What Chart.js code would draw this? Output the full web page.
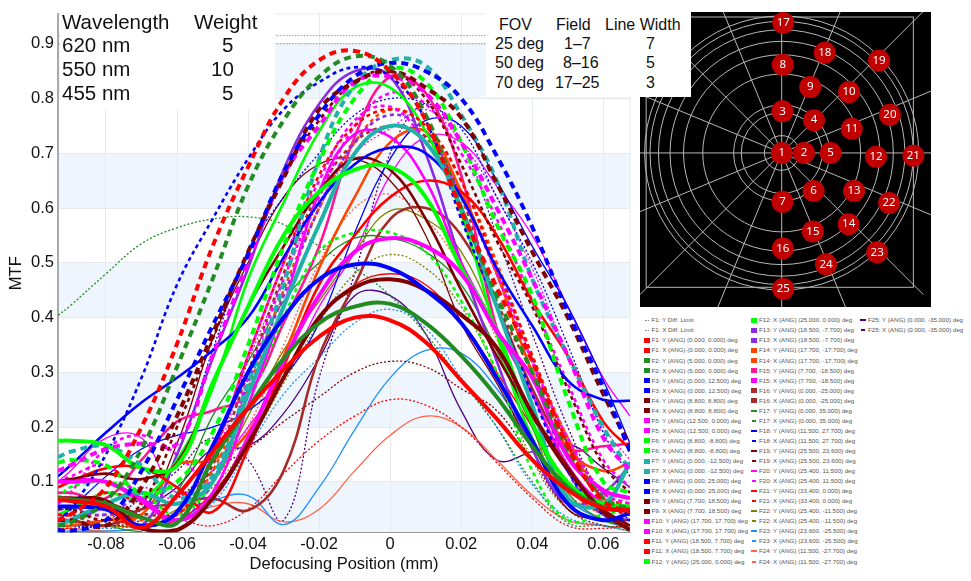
<!DOCTYPE html>
<html>
<head>
<meta charset="utf-8">
<title>MTF vs defocus</title>
<script src="https://cdn.jsdelivr.net/npm/chart.js@4/dist/chart.umd.min.js"></script>
<style>
  html, body { margin: 0; background: #fff; }
  body { position: relative; width: 971px; height: 581px; overflow: hidden; font-family: "Liberation Sans", Arial, sans-serif; color: #111; }
  canvas { position: absolute; display: block; }
  .box { position: absolute; background: #fff; }
  .t { position: absolute; white-space: pre; line-height: 1; }
  .big { font-size: 20.5px; }
  .mid { font-size: 16px; }
  #legend .row { position: absolute; font-size: 6.2px; line-height: 8px; color: #555; white-space: pre; }
  #legend .sw { position: absolute; }
</style>
</head>
<body>
<canvas id="mtf" width="640" height="581" style="left:0;top:0"></canvas>
<canvas id="fields" width="291" height="295" style="left:640px;top:12px"></canvas>

<div class="box" style="left:60px;top:13px;width:215px;height:97px"></div>
<div class="t big" style="left:62px;top:12px">Wavelength</div>
<div class="t big" style="left:194px;top:12px">Weight</div>
<div class="t big" style="left:62px;top:35px">620 nm</div>
<div class="t big" style="left:222px;top:35px">5</div>
<div class="t big" style="left:62px;top:59px">550 nm</div>
<div class="t big" style="left:211px;top:59px">10</div>
<div class="t big" style="left:62px;top:83px">455 nm</div>
<div class="t big" style="left:222px;top:83px">5</div>

<div class="box" style="left:486px;top:12px;width:205px;height:85px"></div>
<div class="t mid" style="left:499px;top:17px">FOV</div>
<div class="t mid" style="left:556px;top:17px">Field</div>
<div class="t mid" style="left:605px;top:17px">Line Width</div>
<div class="t mid" style="left:495px;top:36px">25 deg</div>
<div class="t mid" style="left:564px;top:36px">1–7</div>
<div class="t mid" style="left:646px;top:36px">7</div>
<div class="t mid" style="left:495px;top:55px">50 deg</div>
<div class="t mid" style="left:563px;top:55px">8–16</div>
<div class="t mid" style="left:646px;top:55px">5</div>
<div class="t mid" style="left:495px;top:75px">70 deg</div>
<div class="t mid" style="left:555px;top:75px">17–25</div>
<div class="t mid" style="left:646px;top:75px">3</div>

<div id="legend"></div>

<script>
// shared defocus positions (mm), one value per point of every curve
const defocus = [-0.0935,-0.09,-0.08,-0.07,-0.06,-0.05,-0.04,-0.03,-0.02,-0.01,0,0.01,0.02,0.03,0.04,0.05,0.06,0.0675];
const xTicks = [-0.08,-0.06,-0.04,-0.02,0,0.02,0.04,0.06];
const yTicks = [0.1,0.2,0.3,0.4,0.5,0.6,0.7,0.8,0.9];

const diffY = [.915,.915,.915,.915,.915,.915,.915,.915,.915,.915,.915,.915,.915,.915,.915,.915,.915,.915];
const diffX = [.9,.9,.9,.9,.9,.9,.9,.9,.9,.9,.9,.9,.9,.9,.9,.9,.9,.9];

const f1y = [.067,.065,.055,.016,.075,.155,.235,.305,.365,.40,.395,.355,.285,.215,.14,.085,.052,.048];
const f1x = [.03,.04,.09,.20,.352,.53,.675,.80,.87,.887,.85,.76,.595,.455,.32,.165,.065,.045];
const f2y = [.07,.068,.06,.035,.025,.14,.235,.325,.39,.42,.425,.39,.33,.255,.165,.09,.054,.05];
const f2x = [.02,.025,.065,.16,.31,.47,.64,.76,.84,.877,.86,.77,.6,.44,.3,.16,.07,.05];
const f3y = [.055,.055,.05,.02,.045,.165,.3,.40,.47,.497,.49,.45,.39,.29,.175,.06,.03,.043];
const f3x = [.012,.01,.03,.12,.25,.385,.515,.665,.77,.84,.865,.85,.80,.695,.565,.41,.273,.155];
const f4y = [.07,.07,.065,.015,.012,.07,.17,.29,.40,.455,.47,.45,.405,.345,.225,.125,.045,.012];
const f4x = [.03,.03,.02,.09,.22,.37,.52,.655,.78,.83,.85,.82,.765,.645,.52,.40,.26,.165];
const f5y = [.10,.10,.10,.065,.03,.07,.18,.32,.44,.52,.545,.53,.48,.375,.29,.145,.085,.07];
const f5x = [.12,.13,.16,.17,.17,.33,.50,.66,.75,.83,.84,.81,.72,.60,.47,.33,.18,.12];
const f6y = [.175,.175,.167,.125,.13,.28,.42,.55,.63,.67,.675,.62,.49,.375,.207,.098,.06,.055];
const f6x = [.135,.14,.13,.08,.10,.19,.35,.53,.685,.80,.855,.83,.72,.57,.44,.25,.10,.08];
const f7y = [.02,.03,.06,.08,.06,.10,.26,.42,.57,.70,.75,.72,.60,.42,.24,.07,.06,.135];
const f7x = [.145,.155,.165,.13,.07,.11,.28,.46,.69,.825,.87,.86,.77,.65,.47,.33,.20,.12];
const f8y = [.11,.13,.19,.245,.29,.34,.40,.51,.61,.68,.71,.70,.62,.49,.385,.285,.25,.248];
const f8x = [.03,.05,.15,.29,.46,.58,.69,.78,.83,.857,.84,.76,.58,.42,.26,.12,.04,.03];
const f9y = [.10,.105,.115,.105,.135,.28,.42,.53,.63,.69,.67,.58,.45,.33,.22,.12,.05,.02];
const f9x = [.05,.05,.03,.06,.2,.36,.52,.66,.76,.83,.85,.80,.68,.54,.42,.27,.13,.08];
const f10y = [.10,.105,.10,.07,.03,.08,.24,.42,.63,.735,.73,.65,.5,.38,.26,.13,.06,.05];
const f10x = [.10,.11,.13,.07,.03,.15,.33,.5,.65,.76,.785,.72,.62,.48,.32,.18,.08,.06];
const f11y = [.09,.10,.125,.125,.09,.045,.16,.31,.46,.55,.62,.65,.63,.55,.43,.33,.21,.16];
const f11x = [.04,.04,.08,.06,.04,.15,.33,.5,.66,.75,.78,.75,.65,.49,.33,.17,.06,.04];
const f12y = [.04,.05,.08,.07,.14,.27,.47,.61,.74,.82,.82,.74,.59,.37,.18,.09,.06,.13];
const f12x = [.07,.09,.10,.08,.04,.10,.24,.40,.52,.555,.555,.52,.43,.30,.12,.03,.04,.05];
const f13y = [.03,.03,.05,.02,.15,.325,.49,.67,.79,.85,.84,.70,.50,.32,.16,.06,.08,.13];
const f13x = [.05,.05,.04,.07,.03,.10,.28,.44,.6,.72,.77,.74,.62,.49,.32,.12,.04,.03];
const f14y = [.02,.02,.03,.04,.13,.14,.19,.33,.49,.62,.72,.74,.63,.48,.30,.16,.12,.135];
const f14x = [.03,.03,.04,.03,.04,.12,.27,.45,.6,.72,.78,.75,.65,.5,.33,.18,.07,.06];
const f15y = [.08,.08,.07,.14,.21,.23,.26,.39,.53,.73,.84,.81,.66,.38,.22,.16,.165,.17];
const f15x = [.06,.08,.16,.185,.15,.10,.29,.47,.62,.75,.81,.79,.70,.58,.43,.28,.14,.09];
const f16y = [.03,.03,.02,.05,.06,.07,.048,.12,.33,.46,.58,.6,.55,.42,.27,.15,.07,.04];
const f16x = [.04,.04,.02,.04,.04,.13,.3,.48,.63,.72,.75,.73,.62,.43,.3,.17,.08,.05];
const f17y = [.03,.03,.02,.01,.08,.22,.32,.43,.50,.545,.545,.52,.46,.34,.2,.08,.03,.02];
const f17x = [.404,.422,.48,.535,.564,.58,.584,.57,.53,.49,.44,.37,.285,.2,.1,.025,.02,.01];
const f18y = [.03,.05,.11,.16,.185,.2,.23,.29,.39,.555,.69,.76,.75,.65,.53,.42,.285,.17];
const f18x = [.02,.02,.02,.05,.15,.34,.52,.62,.70,.77,.80,.79,.745,.62,.5,.35,.19,.11];
const f19y = [.03,.03,.06,.05,.17,.36,.50,.62,.68,.69,.65,.55,.39,.28,.16,.05,.03,.03];
const f19x = [.03,.03,.02,.03,.07,.12,.16,.21,.255,.30,.32,.31,.27,.23,.14,.05,.02,.02];
const f20y = [.10,.12,.18,.18,.08,.12,.20,.29,.42,.52,.66,.73,.72,.64,.55,.42,.29,.22];
const f20x = [.05,.05,.06,.09,.07,.14,.32,.47,.61,.70,.745,.78,.72,.62,.49,.33,.20,.14];
const f21y = [.02,.02,.03,.02,.03,.08,.17,.29,.40,.46,.48,.46,.39,.30,.2,.09,.04,.03];
const f21x = [.015,.015,.02,.02,.03,.02,.05,.115,.175,.22,.25,.24,.2,.135,.07,.02,.015,.02];
const f22y = [.02,.02,.02,.02,.05,.10,.22,.34,.43,.52,.595,.58,.52,.38,.2,.06,.03,.02];
const f22x = [.02,.02,.02,.02,.04,.09,.17,.28,.39,.48,.515,.49,.42,.3,.14,.05,.03,.02];
const f23y = [.01,.01,.01,.015,.03,.065,.075,.022,.09,.195,.29,.34,.335,.27,.17,.07,.03,.015];
const f23x = [.02,.02,.015,.02,.03,.06,.16,.26,.327,.39,.415,.38,.29,.2,.095,.035,.02,.01];
const f24y = [.015,.015,.01,.015,.03,.055,.06,.027,.05,.12,.185,.22,.2,.14,.075,.03,.02,.015];
const f24x = [.02,.02,.02,.02,.04,.1,.2,.35,.5,.6,.625,.58,.49,.36,.2,.08,.04,.03];
const f25y = [.03,.03,.02,.05,.09,.16,.165,.225,.325,.44,.44,.37,.23,.14,.155,.17,.125,.09];
const f25x = [.02,.02,.03,.07,.12,.18,.14,.03,.29,.48,.70,.79,.72,.55,.37,.2,.07,.03];

// field table: angle text, colour of Y curve, colour of X curve, Y values, X values
const fieldAngles = ["0.000, 0.000","5.000, 0.000","0.000, 12.500","8.800, 8.800","12.500, 0.000","8.800, -8.800","0.000, -12.500","0.000, 25.000","7.700, 18.500","17.700, 17.700","18.500, 7.700","25.000, 0.000","18.500, -7.700","17.700, -17.700","7.700, -18.500","0.000, -25.000","0.000, 35.000","11.500, 27.700","25.500, 23.600","25.400, 11.500","33.400, 0.000","25.400, -11.500","23.600, -25.500","11.500, -27.700","0.000, -35.000"];
const fieldColorsY = ["#ff0000","#228b22","#0000ff","#800000","#ff00ff","#00ff00","#20b2aa","#0000ff","#800000","#ff00ff","#ff0000","#00ff00","#8a2be2","#ff4500","#ff1493","#a52a2a","#228b22","#0000ff","#800000","#ff00ff","#ff0000","#808000","#1e90ff","#ff6347","#4b0082"];
const fieldColorsX = fieldColorsY.map((c, i) => i === 14 ? "#ff00ff" : c);
const seriesY = [f1y,f2y,f3y,f4y,f5y,f6y,f7y,f8y,f9y,f10y,f11y,f12y,f13y,f14y,f15y,f16y,f17y,f18y,f19y,f20y,f21y,f22y,f23y,f24y,f25y];
const seriesX = [f1x,f2x,f3x,f4x,f5x,f6x,f7x,f8x,f9x,f10x,f11x,f12x,f13x,f14x,f15x,f16x,f17x,f18x,f19x,f20x,f21x,f22x,f23x,f24x,f25x];

// field map marker positions (deg)
const fieldMapX = [0,5.8,.2,8.4,12.7,8.3,.2,.3,7.4,17.5,18.2,24.5,18.8,17.4,8.1,.3,.4,11.2,25.3,28.1,34.2,27.9,24.8,11.5,.4];
const fieldMapY = [0,0,10.8,8.5,0,-9.9,-12.7,22.9,17.1,15.8,6.3,-1,-9.9,-18.5,-20.4,-24.8,33.8,26,24,9.9,-.7,-13,-25.8,-28.9,-35.3];
const ringRadii = [4.5,10.5,12.5,20.5,25.5,29,32,34.2,35.6];
const spokeAngles = [0,22.5,45,67.5,90,112.5,135,157.5,180,202.5,225,247.5,270,292.5,315,337.5];

function lineWidthFor(i) { return i < 7 ? 4 : i < 16 ? 2.6 : 1.3; }
function dashFor(i) { return i < 7 ? [7, 5] : i < 16 ? [4, 3.5] : [2, 2]; }

function toPoints(values) {
  return values.map((v, i) => ({ x: defocus[i], y: v }));
}

const datasets = [
  { label: "F1: Y Diff. Limit", data: toPoints(diffY), borderColor: "#999", borderWidth: 1, borderDash: [1.5, 1.5] },
  { label: "F1: X Diff. Limit", data: toPoints(diffX), borderColor: "#999", borderWidth: 1, borderDash: [1.5, 1.5] }
];
fieldAngles.forEach((angle, i) => {
  const n = i + 1;
  datasets.push({ label: `F${n}: Y (ANG) (${angle}) deg`, data: toPoints(seriesY[i]), borderColor: fieldColorsY[i], borderWidth: lineWidthFor(i) });
  datasets.push({ label: `F${n}: X (ANG) (${angle}) deg`, data: toPoints(seriesX[i]), borderColor: fieldColorsX[i], borderWidth: lineWidthFor(i), borderDash: dashFor(i) });
});

// pale blue bands behind the curves and a faint frame
const bandEdges = [[0, 0.1], [0.2, 0.3], [0.4, 0.5], [0.6, 0.7], [0.8, 0.9]];
const bandPlugin = {
  id: "bands",
  beforeDraw(chart) {
    const { ctx, chartArea: a, scales: { y } } = chart;
    ctx.save();
    ctx.fillStyle = "#eef5fc";
    bandEdges.forEach(([lo, hi]) => {
      const top = y.getPixelForValue(hi);
      const bottom = Math.min(y.getPixelForValue(lo), a.bottom);
      ctx.fillRect(a.left, top, a.right - a.left, bottom - top);
    });
    ctx.strokeStyle = "#e6e9ee";
    ctx.strokeRect(a.left, a.top, a.right - a.left, a.bottom - a.top);
    ctx.restore();
  }
};

new Chart(document.getElementById("mtf"), {
  type: "line",
  data: { datasets },
  plugins: [bandPlugin],
  options: {
    responsive: false,
    animation: false,
    parsing: false,
    normalized: true,
    layout: { padding: { top: 12, right: 10, left: 0, bottom: 0 } },
    elements: { point: { radius: 0 }, line: { tension: 0.4, fill: false, borderCapStyle: "butt" } },
    plugins: { legend: { display: false }, tooltip: { enabled: false } },
    scales: {
      x: {
        type: "linear",
        min: -0.0935,
        max: 0.0675,
        afterFit: s => { s.height = 48.5; },
        afterBuildTicks: s => { s.ticks = xTicks.map(v => ({ value: v })); },
        grid: { color: "#e6e9ee", drawTicks: false },
        border: { color: "#999", width: 1 },
        ticks: { color: "#111", font: { family: "Liberation Sans", size: 16.5 }, padding: 2, maxRotation: 0, callback: v => v === 0 ? "0" : v.toFixed(2) },
        title: { display: true, text: "Defocusing Position (mm)", color: "#111", font: { family: "Liberation Sans", size: 16.5 }, padding: { top: 1, bottom: 7 } }
      },
      y: {
        min: 0.0075,
        max: 0.9546,
        afterFit: s => { s.width = 58; },
        afterBuildTicks: s => { s.ticks = yTicks.map(v => ({ value: v })); },
        grid: { color: "#e6e9ee", drawTicks: false },
        border: { color: "#aaa", width: 2 },
        ticks: { color: "#111", font: { family: "Liberation Sans", size: 16.5 }, padding: 4, callback: v => v.toFixed(1) },
        title: { display: true, text: "MTF", color: "#111", font: { family: "Liberation Sans", size: 16.5 }, padding: { top: 7, bottom: 0 } }
      }
    }
  }
});

// field map: rings and spokes from the scales, then red numbered markers
const mapGridPlugin = {
  id: "mapGrid",
  beforeDatasetsDraw(chart) {
    const { ctx, scales: { x, y } } = chart;
    const cx = x.getPixelForValue(0), cy = y.getPixelForValue(0);
    const perDeg = x.getPixelForValue(1) - cx;
    ctx.save();
    ctx.strokeStyle = "#b8b8b8";
    ctx.lineWidth = 1;
    ringRadii.forEach(r => {
      ctx.beginPath();
      ctx.arc(cx, cy, r * perDeg, 0, Math.PI * 2);
      ctx.stroke();
    });
    spokeAngles.forEach(deg => {
      const a = deg * Math.PI / 180;
      const reach = deg % 45 === 0 && deg % 90 !== 0 ? 52 : 62;
      ctx.beginPath();
      ctx.moveTo(cx, cy);
      ctx.lineTo(cx + Math.cos(a) * reach * perDeg, cy - Math.sin(a) * reach * perDeg);
      ctx.stroke();
    });
    ctx.strokeRect(x.getPixelForValue(-35.2), y.getPixelForValue(35.3), 69.4 * perDeg, 70.2 * perDeg);
    ctx.restore();
  },
  afterDatasetsDraw(chart) {
    const { ctx } = chart;
    const pts = chart.getDatasetMeta(0).data;
    ctx.save();
    ctx.fillStyle = "#fff";
    ctx.font = '11.5px "Noto Sans"';
    ctx.textAlign = "center";
    ctx.textBaseline = "middle";
    pts.forEach((p, i) => ctx.fillText(String(i + 1), p.x, p.y));
    ctx.restore();
  }
};

new Chart(document.getElementById("fields"), {
  type: "scatter",
  data: {
    datasets: [{
      data: fieldMapX.map((v, i) => ({ x: v, y: fieldMapY[i] })),
      backgroundColor: "#c00000",
      borderWidth: 0,
      pointRadius: 11
    }]
  },
  plugins: [{
    id: "black",
    beforeDraw(chart) {
      chart.ctx.fillStyle = "#000";
      chart.ctx.fillRect(0, 0, chart.width, chart.height);
    }
  }, mapGridPlugin],
  options: {
    responsive: false,
    animation: false,
    layout: { autoPadding: false },
    plugins: { legend: { display: false }, tooltip: { enabled: false } },
    scales: {
      x: { display: false, min: -36.8, max: 38.78 },
      y: { display: false, min: -40, max: 36.6 }
    }
  }
});

// legend, three columns built from the datasets
const legend = document.getElementById("legend");
const rowsPerColumn = 25;
const columnSwatch = [644, 751, 860];
const columnText = [651.5, 759, 868];
datasets.forEach((ds, i) => {
  const col = Math.floor(i / rowsPerColumn);
  const rowY = 320.3 + (i % rowsPerColumn) * 10.05;
  const row = document.createElement("div");
  row.className = "row";
  row.textContent = ds.label;
  row.style.left = columnText[col] + "px";
  row.style.top = (rowY - 4) + "px";
  legend.appendChild(row);
  const sw = document.createElement("div");
  sw.className = "sw";
  const thick = ds.borderWidth > 2;
  const isX = i % 2 === 1;
  if (ds.borderWidth === 1) {
    sw.style.cssText = `left:${columnSwatch[col] + 1}px;top:${rowY}px;width:4px;height:0;border-top:1px dotted #888`;
  } else {
    const w = thick || !isX ? 6 : 4;
    sw.style.cssText = `left:${columnSwatch[col] + (6 - w) / 2}px;top:${rowY - (thick ? 2.5 : 1)}px;width:${w}px;height:${thick ? 5 : 2}px;background:${ds.borderColor}`;
  }
  legend.appendChild(sw);
});
</script>
</body>
</html>
